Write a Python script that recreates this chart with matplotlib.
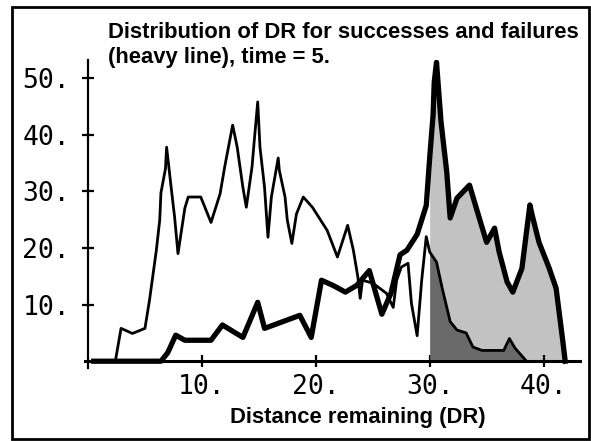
import numpy as np
import matplotlib
matplotlib.use('Agg')
import matplotlib.pyplot as plt
from matplotlib.patches import Rectangle

# successes (thin line)
thin_x = [0.5, 2.4, 2.9, 3.9, 5.0, 5.4, 6.0, 6.3, 6.4, 6.8, 6.9, 7.3, 7.6, 7.9, 8.5, 8.8,
          9.9, 10.8, 11.6, 12.0, 12.7, 13.1, 13.6, 13.9, 14.4, 14.6, 14.9, 15.1, 15.5, 15.8,
          16.1, 16.7, 16.8, 17.3, 17.5, 17.9, 18.3, 18.9, 19.7, 21.0, 21.9, 22.8, 23.3, 23.7,
          23.9, 24.1, 25.0, 26.2, 26.8, 27.1, 27.5, 28.1, 28.4, 28.9, 29.3, 29.7, 30.0, 30.6,
          31.1, 31.8, 32.4, 33.2, 33.8, 34.6, 36.5, 37.0, 37.5, 38.5]
thin_y = [0, 0, 5.8, 4.9, 5.8, 10.8, 19.6, 25, 29.7, 34, 37.8, 30.7, 25.5, 19, 27, 29,
          29, 24.5, 29.6, 34.3, 41.7, 37.8, 30.7, 27.2, 34.3, 39, 45.8, 37.8, 30.7, 21.9,
          29, 35.9, 33.7, 29, 24.9, 20.8, 26, 29, 27.2, 23.1, 18.4, 24, 19.6, 14.8,
          11.1, 14.3, 13.8, 12, 9.5, 14.3, 16.6, 17.3, 10.2, 4.5, 14.3, 22, 19.3, 17.5,
          12.9, 7, 5.5, 5, 2.5, 1.9, 1.9, 4, 2.3, 0]

# failures (heavy line)
heavy_x = [0.5, 6.4, 7.0, 7.7, 8.5, 10.8, 11.8, 13.6, 14.9, 15.5, 18.6, 19.6, 20.5, 21.5,
           22.6, 23.6, 24.7, 25.8, 26.6, 27.4, 28.0, 28.9, 29.7, 30.0, 30.3, 30.4, 30.6,
           31.0, 31.5, 31.8, 32.4, 33.5, 34.1, 35.0, 35.7, 36.1, 36.8, 37.3, 38.1, 38.8,
           39.0, 39.6, 40.5, 41.1, 41.7, 41.9]
heavy_y = [0, 0, 1.5, 4.6, 3.7, 3.7, 6.4, 4.2, 10.4, 5.8, 8.1, 4.2, 14.3, 13.4,
           12.2, 13.4, 16, 8.3, 12, 18.8, 19.6, 22.4, 27.5, 35.9, 43.5, 49.3, 52.8,
           42.2, 33.4, 25.3, 28.8, 31.1, 27, 21, 23.5, 19.3, 14, 12.2, 16.4, 27.6,
           25.8, 21, 16.4, 12.9, 3.4, 0]

shade_from = 30.0
x_ticks = [10, 20, 30, 40]
y_ticks = [10, 20, 30, 40, 50]

W, H = 591, 441
fig = plt.figure(figsize=(W / 100, H / 100), dpi=100)

# axes placed so that x=0 sits at px 88 and y=0 at px 361
x0, x1 = -0.3, 43.2
y0, y1 = -1.2, 53.2
ax = fig.add_axes([84.6 / W, (H - 368) / H, (580 - 84.6) / W, (368 - 60) / H])
ax.set_xlim(x0, x1)
ax.set_ylim(y0, y1)

hx = np.array(heavy_x)
hy = np.array(heavy_y)
tx = np.array(thin_x)
ty = np.array(thin_y)

ax.fill_between(hx, 0, hy, where=hx >= shade_from, color='#c2c2c2', lw=0, zorder=1)
ax.fill_between(tx, 0, ty, where=tx >= shade_from, color='#6a6a6a', lw=0, zorder=2)
ax.plot(tx, ty, color='black', lw=2.0, zorder=3)
ax.plot(hx, hy, color='black', lw=3.8, zorder=4, solid_joinstyle='round')

for s in ['top', 'right']:
    ax.spines[s].set_visible(False)
ax.spines['left'].set_position(('data', 0))
ax.spines['bottom'].set_position(('data', 0))
ax.spines['left'].set_linewidth(1.6)
ax.spines['bottom'].set_linewidth(2.2)

mono = 'DejaVu Sans Mono'
ax.set_xticks(x_ticks)
ax.set_xticklabels([f'{t}.' for t in x_ticks], family=mono, fontsize=19)
ax.set_yticks(y_ticks)
ax.set_yticklabels([f'{t}.' for t in y_ticks], family=mono, fontsize=19)
ax.tick_params(direction='inout', length=8, width=1.6)
ax.tick_params(axis='x', pad=5)
ax.tick_params(axis='y', pad=9)
ax.patch.set_visible(False)

sans = 'Liberation Sans'
fig.text(108 / W, 1 - 38 / H, 'Distribution of DR for successes and failures',
         family=sans, fontsize=15.8, fontweight='bold', va='baseline', ha='left')
fig.text(108 / W, 1 - 63 / H, '(heavy line), time = 5.',
         family=sans, fontsize=15.8, fontweight='bold', va='baseline', ha='left')
fig.text(358 / W, 1 - 423 / H, 'Distance remaining (DR)',
         family=sans, fontsize=15.8, fontweight='bold', va='baseline', ha='center')

# outer frame
fig.patches.append(Rectangle((12 / W, 2 / H), (589 - 12) / W, (434 - 2) / H,
                             transform=fig.transFigure, fill=False,
                             edgecolor='black', lw=2.0))

fig.savefig('out.png', dpi=100)
